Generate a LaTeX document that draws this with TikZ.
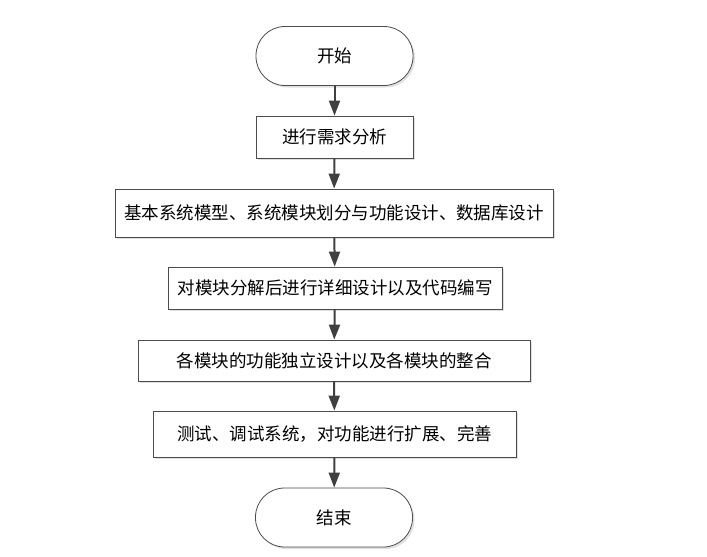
\documentclass[tikz,border=0pt]{standalone}
\usepackage{fontspec}
\setmainfont{Noto Sans CJK SC}
\usetikzlibrary{arrows.meta,shadows}

\begin{document}
\begin{tikzpicture}[x=1pt,y=-1pt,
  font=\fontsize{17.5}{20}\selectfont,
  every node/.style={draw=black!70,fill=white,line width=0.8pt,inner sep=0pt,
    drop shadow={shadow xshift=2pt,shadow yshift=-2pt,fill=black!12,opacity=1}},
  stepbox/.style={minimum height=#1},
  term/.style={rounded corners=29pt,minimum width=157pt,minimum height=59pt},
  flow/.style={draw=black!75,line width=2pt,-{Triangle[length=15pt,width=11pt]}}]
 \useasboundingbox (0,0) rectangle (707,557);
 \node[term] (start) at (334.5,56) {开始};
 \node[stepbox=42pt,minimum width=157pt] (P1) at (334.5,137) {进行需求分析};
 \node[stepbox=48pt,minimum width=438pt] (P2) at (334,213) {基本系统模型、系统模块划分与功能设计、数据库设计};
 \node[stepbox=42pt,minimum width=334pt] (P3) at (335,288) {对模块分解后进行详细设计以及代码编写};
 \node[stepbox=41pt,minimum width=392pt] (P4) at (334,360.5) {各模块的功能独立设计以及各模块的整合};
 \node[stepbox=46pt,minimum width=363pt] (P5) at (334.5,434) {测试、调试系统，对功能进行扩展、完善};
 \node[term] (end) at (334,517.5) {结束};
 %\draw (start) -- (end);
 \draw[flow] (start) -- (P1);
 \draw[flow] (P1) -- (P2);
 \draw[flow] (P2) -- (P3);
 \draw[flow] (P3) -- (P4);
 \draw[flow] (P4) -- (P5);
 \draw[flow] (P5) -- (end);
\end{tikzpicture}
\end{document}
